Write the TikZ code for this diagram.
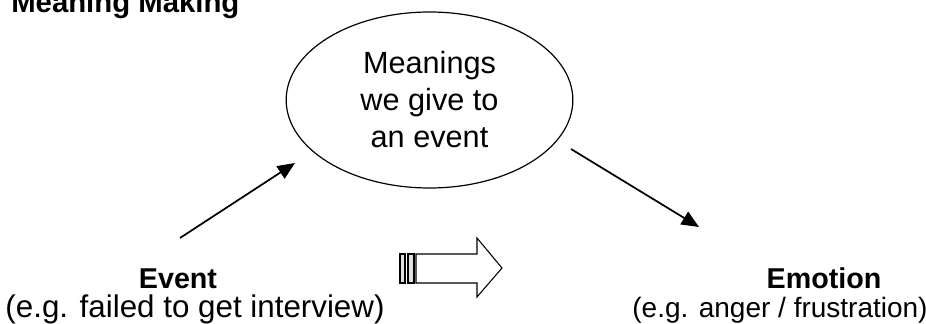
\documentclass[tikz,border=0pt]{standalone}
\usepackage{fontspec}
\setmainfont{Liberation Sans}
\usetikzlibrary{shapes.geometric}
\usetikzlibrary{arrows.meta}
\usetikzlibrary{positioning}

\begin{document}
\begin{tikzpicture}[x=0.75pt, y=-0.75pt,
    label/.style={font=\fontsize{21}{25}\selectfont, inner sep=0pt, anchor=base},
    meaning/.style={draw, ellipse, line width=0.9pt, minimum width=215pt, minimum height=132pt, inner sep=0pt, align=center, font=\fontsize{23}{27.75}\selectfont},
    link/.style={-{Triangle[length=13pt,width=11pt]}, line width=1.3pt}]
    % Frame
    \useasboundingbox (0,0) rectangle (926,324);

    % Title
    \node[label, anchor=base west, font=\fontsize{22}{26}\selectfont\bfseries] (title) at (11,13) {Meaning Making};

    % Meanings
    \node[meaning] (mean) at (429.5,100) {Meanings\\we give to\\an event};

    % Event
    \node[label, font=\fontsize{21.5}{25}\selectfont\bfseries] (event) at (178,289) {Event};
    \node[label, font=\fontsize{23.5}{28}\selectfont] (eventnote) at (195,318) {(e.g. failed to get interview)};

    % Emotion
    \node[label, font=\fontsize{21.5}{25}\selectfont\bfseries] (emotion) at (824,289) {Emotion};
    \node[label] (emotionnote) at (780,318) {(e.g. anger / frustration)};

    % Connectors
    \coordinate (eventtail) at (180,238);
    \coordinate (meanin) at (295,163);
    \coordinate (meanout) at (571,149);
    \coordinate (emotionhead) at (699,227);
    \draw[link] (eventtail) -- (meanin);
    \draw[link] (meanout) -- (emotionhead);

    % Striped block arrow
    \draw[line width=0.8pt, fill=white] (416,254) -- (477,254) -- (477,238) -- (502,268)
        -- (477,297) -- (477,283) -- (416,283) -- cycle;
    \draw[line width=0.8pt, fill=gray!25] (400,254) rectangle (405,283);
    \draw[line width=0.8pt, fill=gray!25] (408,254) rectangle (414,283);

\end{tikzpicture}
\end{document}
